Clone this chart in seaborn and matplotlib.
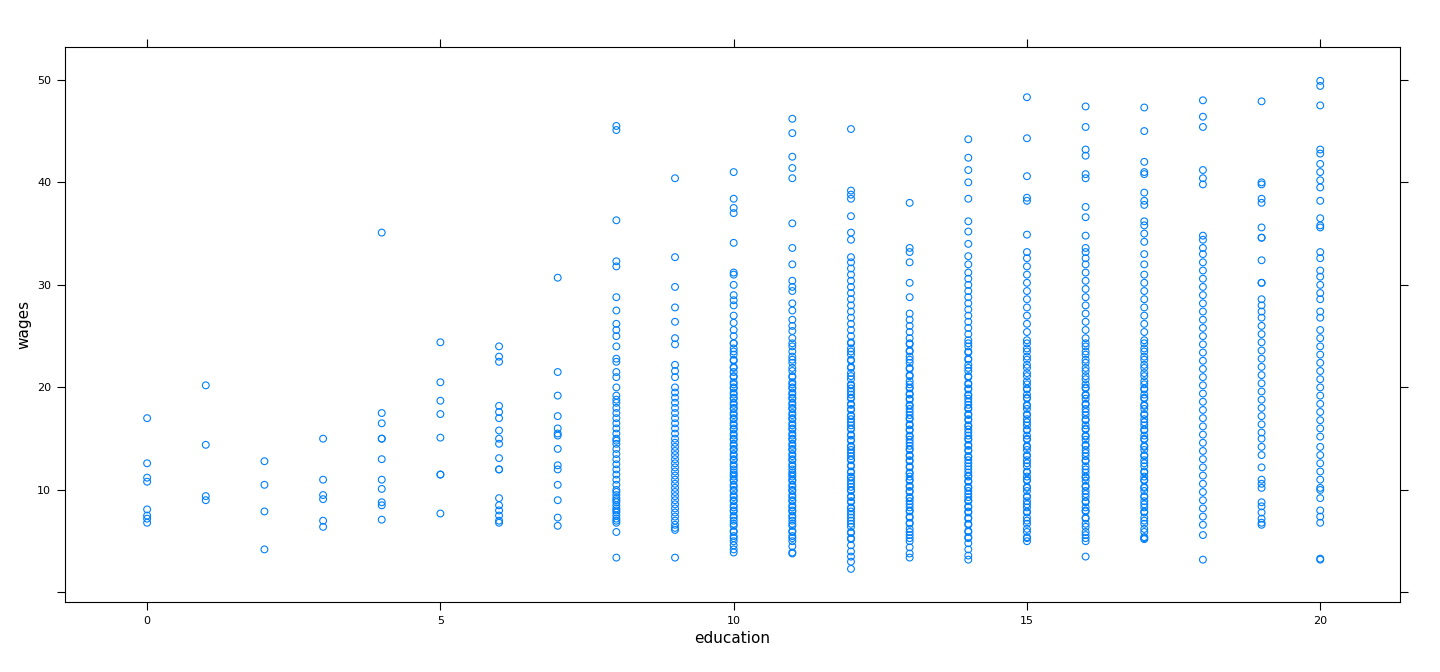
import matplotlib
matplotlib.use("Agg")
import matplotlib.pyplot as plt
import seaborn as sns
import pandas as pd

edu0 = [17.0,12.6,11.2,10.8,8.1,7.5,7.2,6.8]
edu1 = [20.2,14.4,9.4,9.0]
edu2 = [12.8,10.5,7.9,4.2]
edu3 = [15.0,11.0,9.5,9.1,7.0,6.4]
edu4 = [35.1,17.5,16.5,15.0,15.0,13.0,11.0,10.1,8.8,8.5,7.1]
edu5 = [24.4,20.5,18.7,17.4,15.1,11.5,11.5,7.7]
edu6 = [24.0,23.0,22.5,18.2,17.6,17.0,15.8,15.0,14.5,13.1,12.0,12.0,9.2,8.5,8.0,7.5,7.0,6.8]
edu7 = [30.7,21.5,19.2,17.2,16.0,15.5,15.3,14.0,12.4,12.0,10.5,9.0,7.3,6.5]
edu8 = [45.5,45.1,36.3,32.3,31.8,28.8,27.5,26.2,25.6,25.0,24.0,22.8,22.5,21.5,21.0,20.0,19.2,18.8,18.5,18.0,17.5,17.0,16.5,16.0,15.5,15.0,14.8,14.5,14.0,13.5,13.0,12.5,12.0,11.5,11.0,10.5,10.0,9.8,9.5,9.2,9.0,8.8,8.5,8.2,8.0,7.8,7.5,7.2,7.0,6.8,5.9,3.4]
edu9 = [40.4,32.7,29.8,27.8,26.4,24.8,24.2,22.2,21.6,21.0,20.0,19.5,19.0,18.5,18.0,17.5,17.0,16.5,16.0,15.5,15.0,14.6,14.2,13.8,13.4,13.0,12.6,12.2,11.8,11.4,11.0,10.6,10.2,9.8,9.4,9.0,8.6,8.2,7.8,7.4,7.0,6.6,6.3,6.1,3.4]
edu10 = [41.0,38.4,37.5,37.0,34.1,31.2,31.0,30.0,29.0,28.5,28.0,27.0,26.3,25.6,25.0,24.3,23.8,23.2,22.6,22.0,21.5,21.0,20.5,20.0,19.5,19.0,18.5,18.0,17.5,17.0,16.5,16.0,15.5,15.0,14.5,14.0,13.5,13.0,12.5,12.0,11.5,11.0,10.5,10.0,9.5,9.0,8.5,8.0,7.5,7.0,6.5,6.0,5.5,5.0,4.6,4.2,3.9]
edu11 = [46.2,44.8,42.5,41.4,40.4,36.0,33.6,32.0,30.4,29.8,29.4,28.2,27.5,26.6,26.0,25.5,24.8,24.0,23.0,22.4,21.6,21.0,20.5,20.0,19.5,19.0,18.5,18.0,17.5,17.0,16.5,16.0,15.5,15.0,14.5,14.0,13.5,13.0,12.5,12.0,11.5,11.0,10.5,10.0,9.5,9.0,8.5,8.0,7.5,7.0,6.5,6.0,5.5,5.0,4.5,3.9,3.8]
edu12 = [45.2,39.2,38.8,38.4,36.7,35.1,34.4,32.7,32.2,31.6,31.0,30.4,29.8,29.2,28.6,28.0,27.4,26.8,26.2,25.6,25.0,24.4,23.8,23.2,22.6,22.0,21.4,20.8,20.2,19.6,19.0,18.4,17.8,17.2,16.6,16.0,15.4,14.8,14.2,13.6,13.0,12.4,11.8,11.2,10.6,10.0,9.4,8.8,8.2,7.6,7.0,6.4,5.8,5.2,4.6,4.0,3.5,3.0,2.3]
edu13 = [38.0,33.6,33.2,32.2,30.2,28.8,27.2,26.6,26.0,25.4,24.8,24.2,23.6,23.0,22.4,21.8,21.2,20.6,20.0,19.4,18.8,18.2,17.6,17.0,16.4,15.8,15.2,14.6,14.0,13.4,12.8,12.2,11.6,11.0,10.4,9.8,9.2,8.6,8.0,7.4,6.8,6.2,5.6,5.0,4.4,3.8,3.4]
edu14 = [44.2,42.4,41.2,40.0,38.4,36.2,35.2,34.0,32.8,32.0,31.2,30.6,30.0,29.4,28.8,28.2,27.6,27.0,26.4,25.8,25.2,24.6,24.0,23.4,22.8,22.2,21.6,21.0,20.4,19.8,19.2,18.6,18.0,17.4,16.8,16.2,15.6,15.0,14.4,13.8,13.2,12.6,12.0,11.4,10.8,10.2,9.6,9.0,8.4,7.8,7.2,6.6,6.0,5.4,4.8,4.2,3.6,3.2]
edu15 = [48.3,44.3,40.6,38.5,38.2,34.9,33.2,32.6,31.8,31.0,30.2,29.4,28.6,27.8,27.0,26.2,25.4,24.6,23.8,23.0,22.2,21.4,20.6,19.8,19.0,18.2,17.4,16.6,15.8,15.0,14.2,13.4,12.6,11.8,11.0,10.2,9.4,8.6,7.8,7.0,6.2,5.4,5.0]
edu16 = [47.4,45.4,43.2,42.6,40.8,40.4,37.6,36.6,34.8,33.6,33.2,32.6,32.0,31.2,30.4,29.6,28.8,28.0,27.2,26.4,25.6,24.8,24.0,23.2,22.4,21.6,20.8,20.0,19.2,18.4,17.6,16.8,16.0,15.2,14.4,13.6,12.8,12.0,11.2,10.4,9.6,8.8,8.0,7.2,6.4,5.6,5.0,3.5]
edu17 = [47.3,45.0,42.0,41.0,40.8,39.0,38.2,37.8,36.2,35.8,35.0,34.2,33.0,32.0,31.0,30.2,29.4,28.6,27.8,27.0,26.2,25.4,24.6,23.8,23.0,22.2,21.4,20.6,19.8,19.0,18.2,17.4,16.6,15.8,15.0,14.2,13.4,12.6,11.8,11.0,10.2,9.4,8.6,7.8,7.0,6.2,5.4,5.2]
edu18 = [48.0,46.4,45.4,41.2,40.4,39.8,34.8,34.4,33.6,33.0,32.2,31.4,30.6,29.8,29.0,28.2,27.4,26.6,25.8,25.0,24.2,23.4,22.6,21.8,21.0,20.2,19.4,18.6,17.8,17.0,16.2,15.4,14.6,13.8,13.0,12.2,11.4,10.6,9.8,9.0,8.2,7.4,6.6,5.6,3.2]
edu19 = [47.9,40.0,39.8,38.4,38.0,35.6,34.6,34.6,32.4,30.2,30.2,28.6,28.0,27.4,26.8,26.0,25.2,24.4,23.6,22.8,22.0,21.2,20.4,19.6,18.8,18.0,17.2,16.4,15.6,15.0,14.2,13.4,12.2,11.0,10.6,10.2,8.8,8.4,7.8,7.2,6.8,6.6]
edu20 = [49.9,49.4,47.5,43.2,42.8,41.8,41.0,40.2,39.5,38.2,36.5,35.8,35.6,33.2,32.6,31.4,30.8,30.0,29.2,28.6,27.4,26.8,25.6,24.8,24.0,23.2,22.4,21.6,20.8,20.0,19.2,18.4,17.6,16.8,16.0,15.2,14.2,13.4,12.6,11.8,11.0,10.2,10.0,9.2,8.0,7.4,6.8,3.3,3.2]
# extra dense-core wages seen in the crowded columns 10-17
core = [5.3,5.9,6.7,7.3,7.9,8.3,8.9,9.3,9.9,10.3,10.9,11.3,11.7,12.3,12.9,13.3,13.9,14.3,14.9,15.3,15.9,16.3,16.9,17.3,17.9,18.3,18.9,19.3,19.9,20.3,21.1,21.9,22.7,23.5,24.3]

columns = [edu0,edu1,edu2,edu3,edu4,edu5,edu6,edu7,edu8,edu9,edu10,
           edu11,edu12,edu13,edu14,edu15,edu16,edu17,edu18,edu19,edu20]
rows = []
for e, vals in enumerate(columns):
    for v in vals:
        rows.append((e, v))
    if 10 <= e <= 17:
        for v in core:
            rows.append((e, v))
df = pd.DataFrame(rows, columns=["education", "wages"])

sns.set_style("white")
fig = plt.figure(figsize=(14.4, 6.72), dpi=100)
ax = fig.add_axes([65/1440, 70/672, 1335/1440, 555/672])
sns.scatterplot(data=df, x="education", y="wages", ax=ax, marker="o",
                facecolors="none", edgecolor="#0080ff", linewidth=0.8, s=24)
ax.set_xlim(-1.4, 21.36)
ax.set_ylim(-0.93, 53.2)
ax.set_xticks([0, 5, 10, 15, 20])
ax.set_yticks([0, 10, 20, 30, 40, 50])
ax.set_yticklabels(["", "10", "20", "30", "40", "50"])
ax.tick_params(axis="both", which="both", direction="out", length=6, width=0.8,
               labelsize=8, top=True, right=True, bottom=True, left=True,
               labeltop=False, labelright=False, pad=4, color="black",
               labelcolor="black")
for s in ax.spines.values():
    s.set_color("black"); s.set_linewidth(0.8)
ax.set_xlabel("education", fontsize=11, color="black")
ax.set_ylabel("wages", fontsize=11, color="black")
fig.savefig("out.png", dpi=100)
